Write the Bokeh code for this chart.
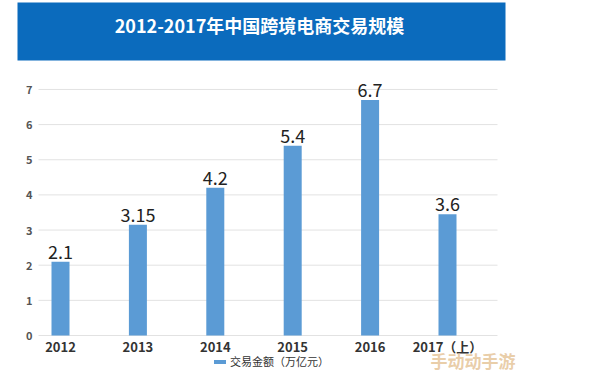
from bokeh.plotting import figure
from bokeh.models import (ColumnDataSource, Range1d, BoxAnnotation,
                          Label, Legend, LegendItem)
from bokeh.embed import file_html
from bokeh.resources import INLINE
from bokeh.core.properties import value

title_text = "2012-2017年中国跨境电商交易规模"
categories = ["2012", "2013", "2014", "2015", "2016", "2017（上）"]
amounts = [2.1, 3.15, 4.2, 5.4, 6.7, 3.45]
amount_labels = ["2.1", "3.15", "4.2", "5.4", "6.7", "3.6"]
y_ticks = [0, 1, 2, 3, 4, 5, 6, 7]
legend_label = "交易金额（万亿元）"
watermark = "手动动手游"

W, H = 578, 373
# plot geometry (pixels)
x0_px, x_unit = 60.0, 77.4      # centre of first category, spacing
y0_px, y_unit = 335.0, 35.15    # baseline, pixels per unit
grid_left_px, grid_right_px = 38.0, 497.0

xr = Range1d(-x0_px / x_unit, (W - x0_px) / x_unit)
yr = Range1d(-(H - y0_px) / y_unit, y0_px / y_unit)
g_left = (grid_left_px - x0_px) / x_unit
g_right = (grid_right_px - x0_px) / x_unit

xs = list(range(len(categories)))
src = ColumnDataSource(dict(x=xs, top=amounts, lab=amount_labels, cat=categories,
                            zero=[0] * len(xs)))
grid_src = ColumnDataSource(dict(y=y_ticks, lab=[str(t) for t in y_ticks],
                                 x0=[g_left] * len(y_ticks),
                                 x1=[g_right] * len(y_ticks)))

p = figure(width=W, height=H, output_backend="svg", toolbar_location=None,
           x_range=xr, y_range=yr, x_axis_type=None, y_axis_type=None,
           min_border=0)
p.outline_line_color = None
p.xgrid.visible = False
p.ygrid.visible = False
p.background_fill_color = "white"
p.border_fill_color = "white"

# title bar (behind everything)
p.add_layout(BoxAnnotation(left=17, right=505, top=H - 2, bottom=H - 60,
                           left_units="screen", right_units="screen",
                           top_units="screen", bottom_units="screen",
                           fill_color="#0b6bbd", fill_alpha=1, line_color=None,
                           level="underlay"))

# gridlines and y tick labels
p.segment(x0="x0", y0="y", x1="x1", y1="y", source=grid_src,
          line_color="#e2e2e2", line_width=1)
p.text(x="x0", y="y", text="lab", source=grid_src, x_offset=-6,
       text_align="right", text_baseline="middle",
       text_font=value("Noto Sans CJK SC"), text_font_size="11px",
       text_font_style="bold", text_color="#555555")

bars = p.vbar(x="x", top="top", width=18 / x_unit, bottom=0, source=src,
              fill_color="#5b9bd5", line_color=None)
p.text(x="x", y="top", text="lab", source=src, text_align="center",
       text_baseline="bottom", y_offset=-3, text_font=value("Noto Sans CJK JP"),
       text_font_size="18px", text_color="#222222")

# category labels
p.text(x="x", y="zero", text="cat", source=src, text_align="center",
       text_baseline="middle", y_offset=11, text_font=value("Noto Sans CJK SC"),
       text_font_size="13px", text_font_style="bold", text_color="#333333")

p.add_layout(Label(x=259, y=H - 24, x_units="screen", y_units="screen",
                   text=title_text, text_align="center", text_baseline="middle",
                   text_font="Noto Sans CJK SC", text_font_style="bold",
                   text_font_size="18px", text_color="white", level="overlay"))

legend = Legend(items=[LegendItem(label=legend_label, renderers=[bars])],
                location=(212, 4), orientation="horizontal",
                glyph_width=15, glyph_height=5, label_text_font="Noto Sans CJK SC",
                label_text_font_size="11px", label_text_color="#333333",
                padding=0, margin=0, border_line_color=None,
                background_fill_alpha=0, label_standoff=3)
p.add_layout(legend)

p.add_layout(Label(x=430, y=H - 360, x_units="screen", y_units="screen",
                   text=watermark, text_align="left", text_baseline="middle",
                   text_font="Noto Sans CJK SC", text_font_style="bold",
                   text_font_size="17px", text_color="#e6c59a", text_alpha=0.85))

open("out.html", "w").write(file_html(p, INLINE))
